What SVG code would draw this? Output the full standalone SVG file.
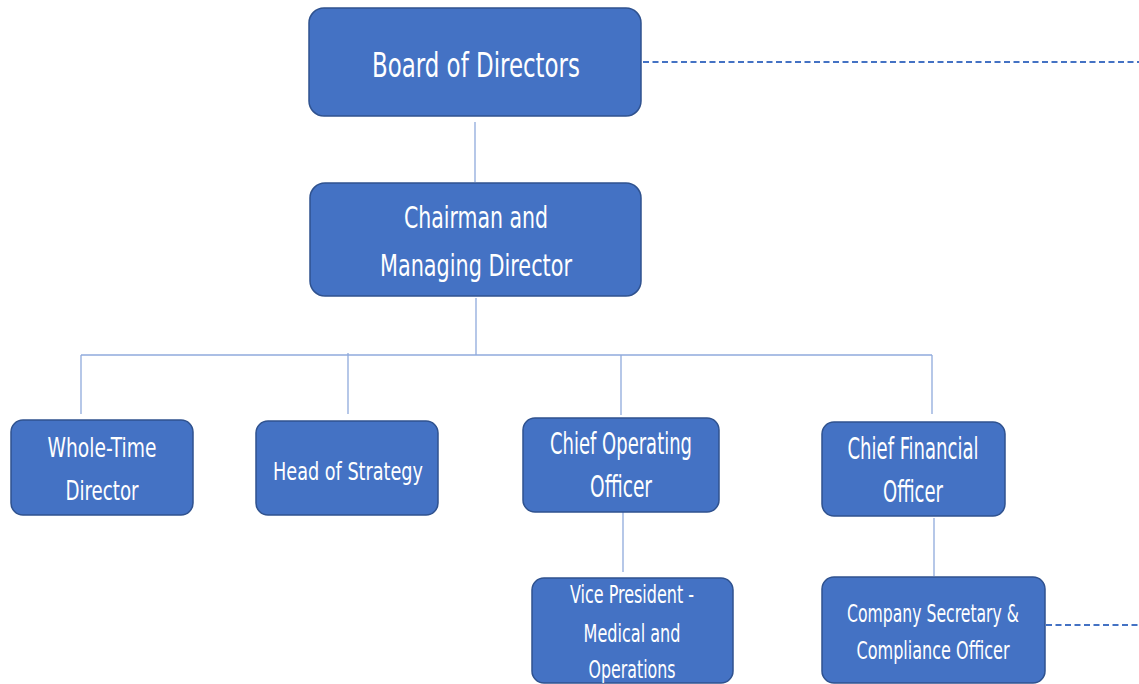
<svg xmlns="http://www.w3.org/2000/svg" width="1139" height="684" viewBox="0 0 1139 684">
<style>
.box{fill:#4472C4;stroke:#2F528F;stroke-width:1.5}
.t{fill:#FFFFFF;font-family:"Liberation Sans Narrow","DejaVu Sans Condensed","Liberation Sans",sans-serif;text-anchor:middle}
.c{stroke:#8FAADC;stroke-width:1.3;fill:none}
.d{stroke:#4472C4;stroke-width:1.8;stroke-dasharray:6 3.5;fill:none}
</style>
<rect width="1139" height="684" fill="#FFFFFF"/>
<g id="connectors">
<line class="c" x1="475" y1="122" x2="475" y2="182"/>
<line class="c" x1="476" y1="298" x2="476" y2="355"/>
<line class="c" x1="81" y1="355" x2="932" y2="355"/>
<line class="c" x1="81" y1="355" x2="81" y2="414"/>
<line class="c" x1="348" y1="353" x2="348" y2="414"/>
<line class="c" x1="621" y1="355" x2="621" y2="415"/>
<line class="c" x1="932" y1="355" x2="932" y2="414"/>
<line class="c" x1="623" y1="512" x2="623" y2="572"/>
<line class="c" x1="934" y1="518" x2="934" y2="576"/>
<line class="d" x1="643" y1="62" x2="1139" y2="62"/>
<line class="d" x1="1046" y1="625" x2="1139" y2="625"/>
</g>
<g id="board">
<rect class="box" x="309" y="8" width="332" height="108" rx="15"/>
<text class="t" x="476" y="77" font-size="33" textLength="208" lengthAdjust="spacingAndGlyphs">Board of Directors</text>
</g>
<g id="chairman">
<rect class="box" x="310" y="183" width="331" height="113" rx="15"/>
<text class="t" x="476" y="228" font-size="30" textLength="144" lengthAdjust="spacingAndGlyphs">Chairman and</text>
<text class="t" x="476" y="276" font-size="30" textLength="192" lengthAdjust="spacingAndGlyphs">Managing Director</text>
</g>
<g id="whole-time">
<rect class="box" x="11" y="420" width="182" height="95" rx="12"/>
<text class="t" x="102" y="457" font-size="27" textLength="109" lengthAdjust="spacingAndGlyphs">Whole-Time</text>
<text class="t" x="102" y="500" font-size="27" textLength="73" lengthAdjust="spacingAndGlyphs">Director</text>
</g>
<g id="strategy">
<rect class="box" x="256" y="421" width="182" height="94" rx="12"/>
<text class="t" x="348" y="480" font-size="25" textLength="150" lengthAdjust="spacingAndGlyphs">Head of Strategy</text>
</g>
<g id="coo">
<rect class="box" x="523" y="418" width="196" height="94" rx="12"/>
<text class="t" x="621" y="454" font-size="30" textLength="142" lengthAdjust="spacingAndGlyphs">Chief Operating</text>
<text class="t" x="621" y="497" font-size="30" textLength="62" lengthAdjust="spacingAndGlyphs">Officer</text>
</g>
<g id="cfo">
<rect class="box" x="822" y="422" width="183" height="94" rx="12"/>
<text class="t" x="913" y="459" font-size="30" textLength="131" lengthAdjust="spacingAndGlyphs">Chief Financial</text>
<text class="t" x="913" y="502" font-size="30" textLength="60" lengthAdjust="spacingAndGlyphs">Officer</text>
</g>
<g id="vp">
<rect class="box" x="532" y="578" width="201" height="105" rx="12"/>
<text class="t" x="632" y="603" font-size="25" textLength="124" lengthAdjust="spacingAndGlyphs">Vice President -</text>
<text class="t" x="632" y="642" font-size="25" textLength="97" lengthAdjust="spacingAndGlyphs">Medical and</text>
<text class="t" x="632" y="678" font-size="25" textLength="87" lengthAdjust="spacingAndGlyphs">Operations</text>
</g>
<g id="company-secretary">
<rect class="box" x="822" y="577" width="223" height="106" rx="12"/>
<text class="t" x="933" y="622" font-size="25" textLength="172" lengthAdjust="spacingAndGlyphs">Company Secretary &amp;</text>
<text class="t" x="933" y="659" font-size="25" textLength="153" lengthAdjust="spacingAndGlyphs">Compliance Officer</text>
</g>
</svg>
